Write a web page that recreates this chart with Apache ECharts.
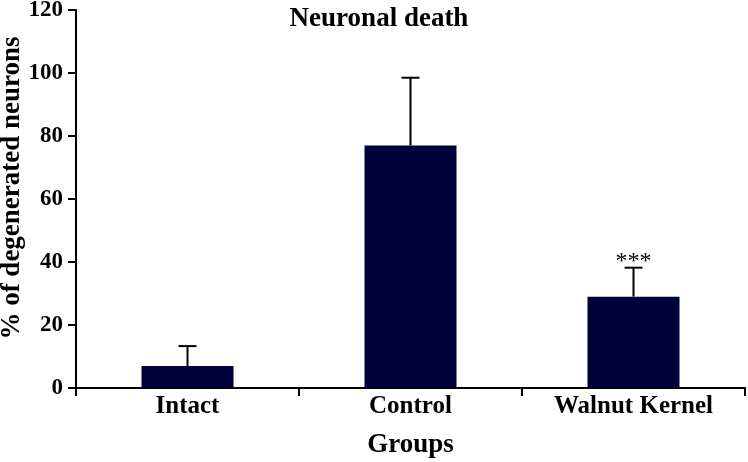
<!DOCTYPE html>
<html>
<head>
<meta charset="utf-8">
<script src="https://cdn.jsdelivr.net/npm/echarts@6/dist/echarts.min.js"></script>
<style>html,body{margin:0;padding:0;background:#fff;}#c{width:748px;height:462px;}</style>
</head>
<body>
<div id="c"></div>
<script>
var categories = ['Intact', 'Control', 'Walnut Kernel'];
var means = [7, 77, 29];
var errors = [6.3, 21.5, 9.2];
var significance = ['', '', '***'];
var yTicks = [0, 20, 40, 60, 80, 100, 120];

var FONT = '"Liberation Serif", "Times New Roman", serif';
var BAR = '#00003a';
var chart = echarts.init(document.getElementById('c'));

var errData = categories.map(function (c, i) { return [i, means[i], means[i] + errors[i], significance[i]]; });

chart.setOption({
  animation: false,
  title: {
    text: 'Neuronal death',
    left: 374, top: 1, textAlign: 'center',
    textStyle: { fontFamily: FONT, fontWeight: 'bold', fontSize: 27, color: '#000' }
  },
  grid: { left: 76, right: 3, top: 10, bottom: 74, containLabel: false, outerBoundsMode: 'none' },
  xAxis: {
    type: 'category',
    data: categories,
    name: 'Groups',
    nameLocation: 'middle',
    nameGap: 44,
    nameMoveOverlap: false,
    nameTextStyle: { fontFamily: FONT, fontWeight: 'bold', fontSize: 27, color: '#000' },
    axisLine: { lineStyle: { color: '#000', width: 2 } },
    axisTick: { show: true, alignWithLabel: false, length: 8, lineStyle: { color: '#000', width: 2 } },
    axisLabel: { fontFamily: FONT, fontWeight: 'bold', fontSize: 25, color: '#000', margin: 6 }
  },
  yAxis: {
    type: 'value',
    min: 0, max: 120, interval: 20,
    name: '% of degenerated neurons',
    nameLocation: 'middle',
    nameGap: 50,
    nameMoveOverlap: false,
    nameTextStyle: { fontFamily: FONT, fontWeight: 'bold', fontSize: 27, color: '#000', padding: [0, 0, 0, 22] },
    axisLine: { show: true, lineStyle: { color: '#000', width: 2 } },
    axisTick: { show: true, length: 8, lineStyle: { color: '#000', width: 2 } },
    axisLabel: {
      fontFamily: FONT, fontWeight: 'bold', fontSize: 23, color: '#000', margin: 13,
      formatter: function (v) { return yTicks.indexOf(v) >= 0 ? String(v) : ''; }
    },
    splitLine: { show: false }
  },
  series: [
    {
      type: 'bar',
      data: means,
      barWidth: 92,
      itemStyle: { color: BAR },
      z: 3
    },
    {
      type: 'custom',
      data: errData,
      z: 4,
      renderItem: function (params, api) {
        var x = api.value(0);
        var base = api.coord([x, api.value(1)]);
        var top = api.coord([x, api.value(2)]);
        var hw = 9;
        var children = [
          { type: 'line', shape: { x1: base[0], y1: base[1], x2: top[0], y2: top[1] }, style: { stroke: '#000', lineWidth: 2 } },
          { type: 'line', shape: { x1: top[0] - hw, y1: top[1], x2: top[0] + hw, y2: top[1] }, style: { stroke: '#000', lineWidth: 2 } }
        ];
        var s = api.value(3);
        if (s) {
          children.push({ type: 'text', x: top[0], y: top[1] + 6, style: { text: s, textAlign: 'center', textVerticalAlign: 'bottom', font: '24px ' + FONT, fill: '#000' } });
        }
        return { type: 'group', children: children };
      }
    }
  ]
});
</script>
</body>
</html>
